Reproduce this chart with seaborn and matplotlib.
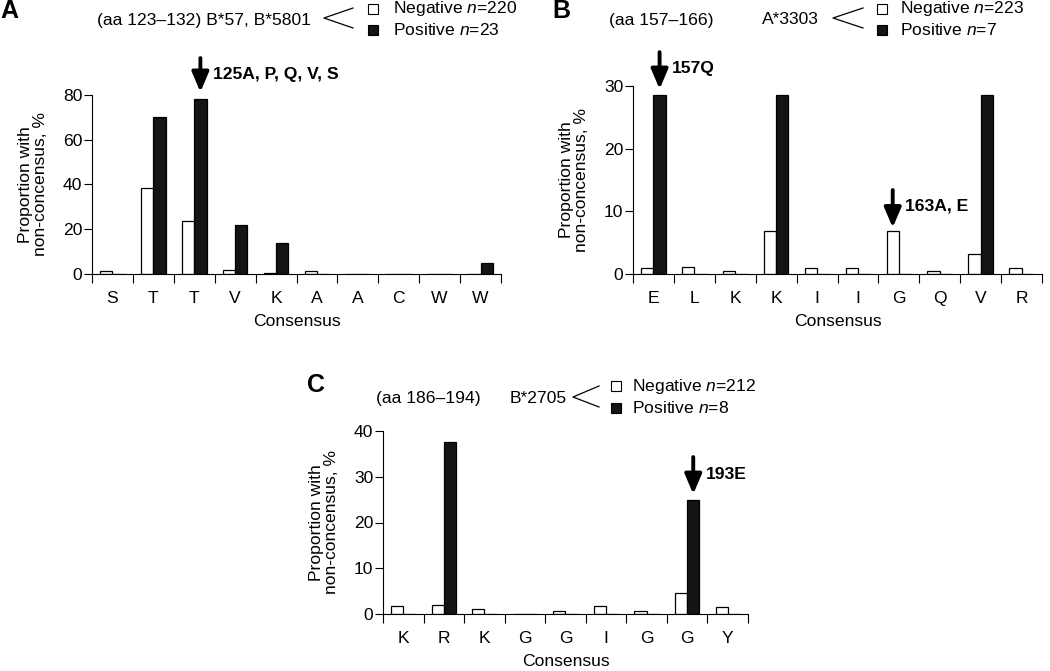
import matplotlib
matplotlib.use("Agg")
import numpy as np
import pandas as pd
import matplotlib.pyplot as plt
import seaborn as sns
from matplotlib.lines import Line2D
from matplotlib.patches import Rectangle

# Panel A (aa 123-132)
a_cons = ["S", "T", "T", "V", "K", "A", "A", "C", "W", "W"]
a_neg = [1.2, 38.4, 23.8, 1.9, 0.6, 1.2, 0, 0, 0, 0]
a_pos = [0, 70.3, 78.3, 21.7, 14.0, 0, 0, 0, 0, 4.8]

# Panel B (aa 157-166)
b_cons = ["E", "L", "K", "K", "I", "I", "G", "Q", "V", "R"]
b_neg = [1.0, 1.1, 0.5, 6.9, 1.0, 1.0, 6.9, 0.5, 3.2, 1.0]
b_pos = [28.6, 0, 0, 28.6, 0, 0, 0, 0, 28.6, 0]

# Panel C (aa 186-194)
c_cons = ["K", "R", "K", "G", "G", "I", "G", "G", "Y"]
c_neg = [1.7, 2.0, 1.2, 0, 0.6, 1.7, 0.6, 4.6, 1.5]
c_pos = [0, 37.5, 0, 0, 0, 0, 0, 25.0, 0]

plt.rcParams['font.family'] = ['Liberation Sans', 'DejaVu Sans']
plt.rcParams['mathtext.fontset'] = 'custom'
plt.rcParams['mathtext.rm'] = 'Liberation Sans'
plt.rcParams['mathtext.it'] = 'Liberation Sans:italic'
plt.rcParams['axes.linewidth'] = 0.8

W, H = 1050, 671
fig = plt.figure(figsize=(W / 100, H / 100), dpi=100)


def px(x, y):
    return x / W, 1 - y / H


def rect(l, r, b, t):
    return [l / W, 1 - b / H, (r - l) / W, (b - t) / H]


FS = 12.6
palette = {"Negative": "white", "Positive": "#141414"}


def draw_panel(ax, cons, neg, pos, ymax, step):
    n = len(cons)
    df = pd.DataFrame({
        "pos": list(range(n)) * 2,
        "value": neg + pos,
        "group": ["Negative"] * n + ["Positive"] * n,
    })
    sns.barplot(data=df, x="pos", y="value", hue="group", palette=palette,
                edgecolor="black", linewidth=0.9, width=0.6, errorbar=None,
                legend=False, ax=ax)
    ax.set_xlim(-0.5, n - 0.5)
    ax.set_ylim(0, ymax)
    ax.set_yticks(np.arange(0, ymax + 1, step))
    ax.set_xticks(range(n))
    ax.set_xticklabels(cons)
    ax.set_xticks(np.arange(-0.5, n), minor=True)
    ax.tick_params(axis="x", which="major", length=0, pad=12, labelsize=FS)
    ax.tick_params(axis="x", which="minor", length=6.5, width=0.8)
    ax.tick_params(axis="y", length=6, width=0.8, pad=1, labelsize=FS)
    ax.spines["top"].set_visible(False)
    ax.spines["right"].set_visible(False)
    ax.set_xlabel("Consensus", fontsize=FS, labelpad=6)
    ax.set_ylabel("Proportion with\nnon-concensus, %", fontsize=FS,
                  labelpad=11, linespacing=1.0)


def arrow(ax, x, tail, tip, label, ly):
    ax.annotate("", xy=(x, tip), xytext=(x, tail), annotation_clip=False,
                arrowprops=dict(arrowstyle="-|>,head_width=0.34,head_length=0.8",
                                mutation_scale=15, lw=2.8, color="black",
                                shrinkA=0, shrinkB=0))
    ax.text(x + 0.3, ly, label, fontsize=FS, fontweight="bold",
            ha="left", va="center", clip_on=False)


def header(letter, lxy, desc_parts, bracket, sq_x, neg_y, pos_y, txt_x, neg_lbl, pos_lbl):
    fig.text(*px(*lxy), letter, fontsize=18, fontweight="bold", ha="left", va="center")
    for x, y, s in desc_parts:
        fig.text(*px(x, y), s, fontsize=FS, ha="left", va="center")
    pts = [px(x, y) for x, y in bracket]
    fig.add_artist(Line2D([p[0] for p in pts], [p[1] for p in pts],
                          color="black", lw=0.9))
    for yc, fc in [(neg_y, "white"), (pos_y, "#141414")]:
        x, y = px(sq_x, yc + 5)
        fig.add_artist(Rectangle((x, y), 10 / W, 10 / H, facecolor=fc,
                                 edgecolor="black", lw=0.8, transform=fig.transFigure))
    fig.text(*px(txt_x, neg_y), neg_lbl, fontsize=FS, ha="left", va="center")
    fig.text(*px(txt_x, pos_y), pos_lbl, fontsize=FS, ha="left", va="center")


# Panel A
axA = fig.add_axes(rect(92, 501, 274, 95))
draw_panel(axA, a_cons, a_neg, a_pos, 80, 20)
arrow(axA, 2.15, 96.5, 81.3, "125A, P, Q, V, S", 89)
header("A", (0, 11), [(97, 20, "(aa 123\u2013132) B*57, B*5801")],
       [(353, 8), (324, 18), (353, 28)], 368, 9, 30, 393,
       "Negative $n$=220", "Positive $n$=23")

# Panel B
axB = fig.add_axes(rect(633, 1042, 274, 86))
draw_panel(axB, b_cons, b_neg, b_pos, 30, 10)
arrow(axB, 0.15, 35.4, 29.5, "157Q", 32.8)
arrow(axB, 5.85, 13.4, 7.4, "163A, E", 10.8)
header("B", (552, 11), [(609, 20, "(aa 157\u2013166)"), (762, 20, "A*3303")],
       [(863, 8), (833, 18), (863, 28)], 877, 9, 30, 900,
       "Negative $n$=223", "Positive $n$=7")

# Panel C
axC = fig.add_axes(rect(383, 748, 614, 431))
draw_panel(axC, c_cons, c_neg, c_pos, 40, 10)
arrow(axC, 7.15, 34.3, 26.2, "193E", 30.6)
header("C", (307, 385), [(376, 398, "(aa 186\u2013194)"), (510, 398, "B*2705")],
       [(599, 386), (573, 397), (599, 407)], 611, 386, 408, 632,
       "Negative $n$=212", "Positive $n$=8")

fig.savefig("out.png", dpi=100)
